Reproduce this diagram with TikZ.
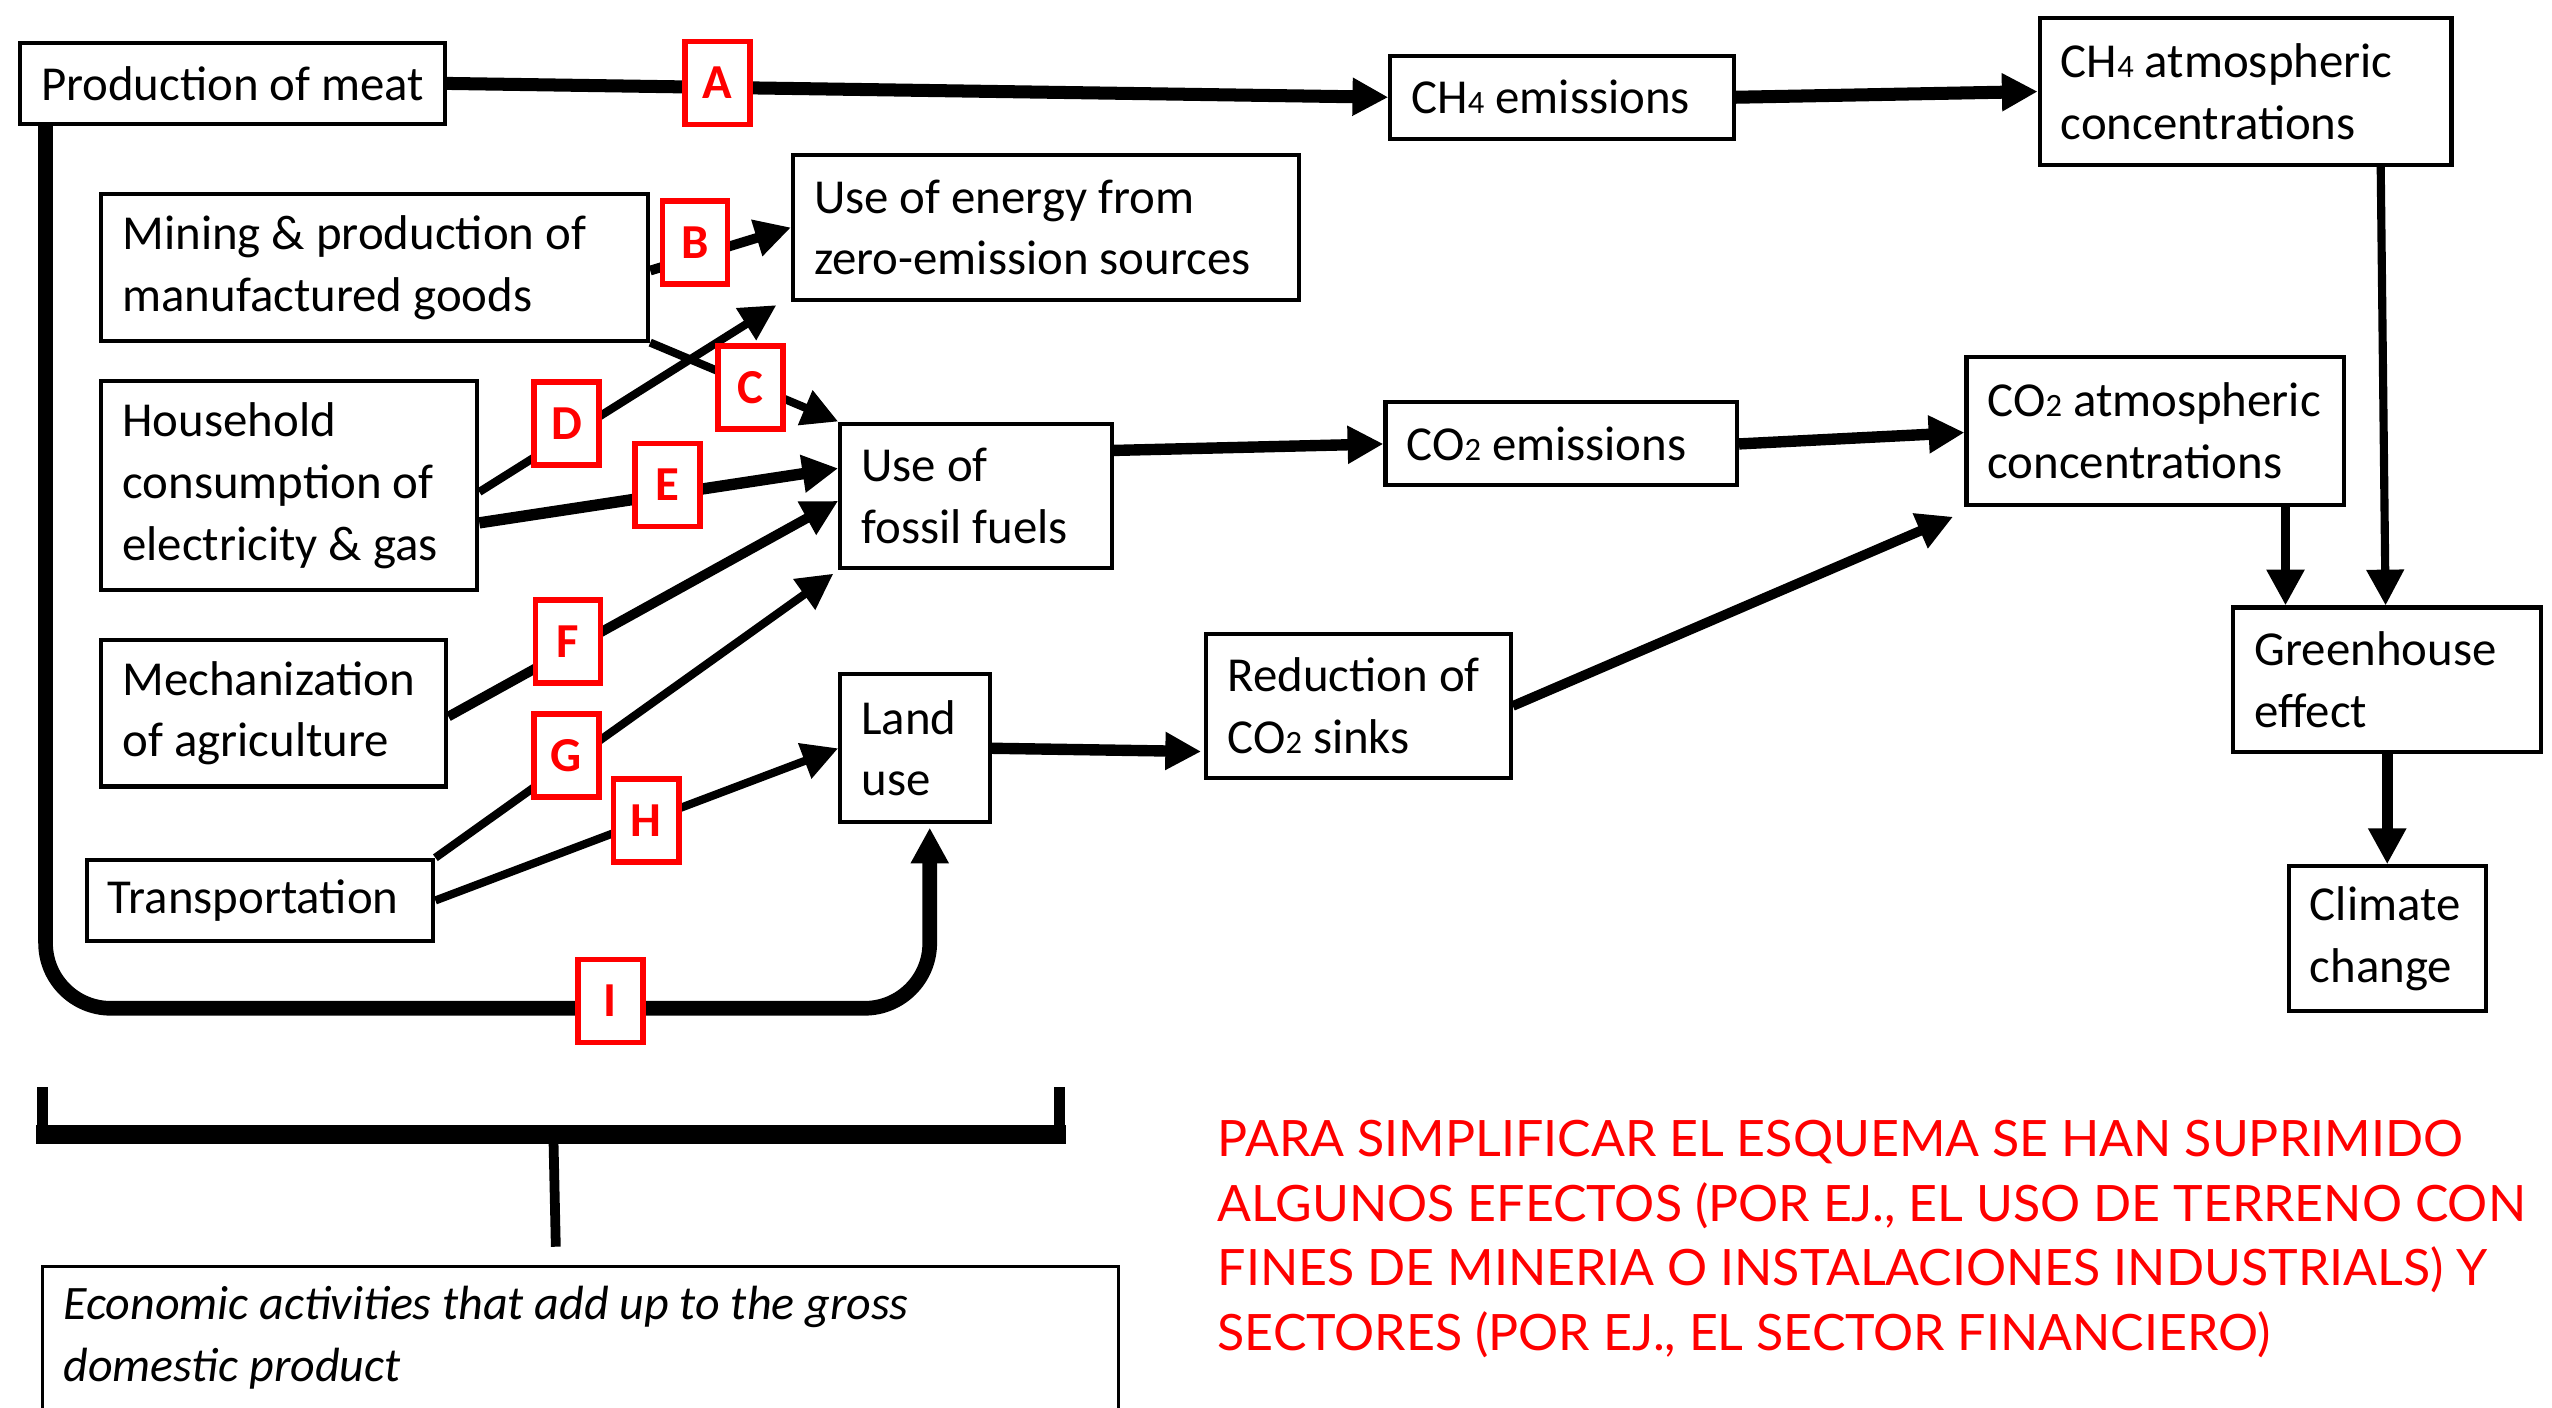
\documentclass[tikz,border=0pt]{standalone}
\usepackage{fontspec}
\setmainfont{Carlito}
\newfontfamily\notefont{Lato}
\usetikzlibrary{arrows.meta,calc}
\newcommand\smalldig[1]{{\fontsize{20}{20}\selectfont #1}}
\newcommand\LN[1]{\mbox{\spaceskip=0pt\xspaceskip=0pt\relax #1}}
\begin{document}
\begin{tikzpicture}[x=1pt,y=-1pt,
  box/.style={draw, line width=2.5pt, align=left, inner xsep=13pt, inner ysep=0pt, anchor=north west, font=\fontsize{30}{38}\selectfont},
  lbl/.style={draw=red, line width=3.5pt, fill=white, text=red, font=\fontsize{30}{36}\selectfont\bfseries, minimum width=40pt, minimum height=51pt, inner sep=0pt},
  arr/.style={line width=6pt, -{Triangle[length=22pt,width=22pt]}},
]
\fill[white] (0,0) rectangle (1568,865);
\useasboundingbox (0,0) rectangle (1568,865);

% boxes
\node[box, text width=235pt, minimum height=50pt] (meat) at (11,25) {\LN{Production of meat}};
\node[box, text width=310pt, minimum height=90pt] (mine) at (61,118) {\LN{Mining \& production of}\\\LN{manufactured goods}};
\node[box, text width=285pt, minimum height=89pt] (zero) at (486,94) {\LN{Use of energy from}\\\LN{zero-emission sources}};
\node[box, text width=205pt, minimum height=128pt] (house) at (61,233) {\LN{Household}\\\LN{consumption of}\\\LN{electricity \& gas}};
\node[box, text width=141pt, minimum height=89pt] (fossil) at (515,259) {\LN{Use of}\\\LN{fossil fuels}};
\node[box, text width=186pt, minimum height=90pt] (mech) at (61,392) {\LN{Mechanization}\\\LN{of agriculture}};
\node[box, text width=66pt, minimum height=91pt] (land) at (515,413) {\LN{Land}\\\LN{use}};
\node[box, text width=187pt, minimum height=50pt] (trans) at (52,527) {\LN{Transportation}};
\node[box, text width=185pt, minimum height=51pt] (ch4e) at (853,33) {\LN{CH\smalldig{4} emissions}};
\node[box, text width=227pt, minimum height=90pt] (ch4a) at (1252,10) {\LN{CH\smalldig{4} atmospheric}\\\LN{concentrations}};
\node[box, text width=190pt, minimum height=51pt] (co2e) at (850,246) {\LN{CO\smalldig{2} emissions}};
\node[box, text width=206pt, minimum height=91pt] (co2a) at (1207,218) {\LN{CO\smalldig{2} atmospheric}\\\LN{concentrations}};
\node[box, text width=161pt, minimum height=89pt] (sinks) at (740,388) {\LN{Reduction of}\\\LN{CO\smalldig{2} sinks}};
\node[box, text width=163pt, minimum height=89pt] (ghe) at (1371,372) {\LN{Greenhouse}\\\LN{effect}};
\node[box, text width=95pt, minimum height=89pt] (climate) at (1405,531) {\LN{Climate}\\\LN{change}};
\node[box, line width=2pt, text width=635pt, minimum height=88pt, font=\fontsize{29.5}{38}\selectfont\itshape] (gdp) at (25,777) {\LN{Economic activities that add up to the gross}\\\LN{domestic product}};

% connectors
\draw[arr, line width=8pt] (meat.east) -- (ch4e.west);
\draw[arr, line width=8pt] (ch4e.east) -- (ch4a.west);
\draw[arr] ([yshift=-2pt]mine.east) -- (zero.west);
\draw[arr, line width=5pt] (mine.south east) -- (fossil.north west);
\draw[arr, line width=5pt] ([yshift=-4pt]house.east) -- ([xshift=-9pt,yshift=-2pt]zero.south west);
\draw[arr, line width=7pt] ([yshift=-23pt]house.east) -- ([yshift=17pt]fossil.west);
\draw[arr] ([yshift=-2pt]mech.east) -- ([yshift=-3pt]fossil.west);
\draw[arr, line width=5pt] (trans.north east) -- ([xshift=-3pt,yshift=-2pt]fossil.south west);
\draw[arr, line width=5pt] (trans.east) -- (land.west);
\draw[arr, line width=9pt, rounded corners=40pt] ([xshift=17pt]meat.south west) -- ++(0,542) -| ([xshift=9pt,yshift=-2pt]land.south);
\draw[arr, line width=7pt] ([yshift=28pt]fossil.east) -- (co2e.west);
\draw[arr, line width=7pt] (co2e.east) -- ([yshift=-1pt]co2a.west);
\draw[arr, line width=7pt] (land.east) -- ([xshift=-2pt,yshift=-28pt]sinks.west);
\draw[arr] (sinks.east) -- ([xshift=-7pt,yshift=-6pt]co2a.south west);
\coordinate (gh1) at ([xshift=80pt]co2a.south);
\draw[arr] (gh1) -- (gh1 |- ghe.north);
\draw[arr, line width=5pt] ([xshift=83pt]ch4a.south) -- ([xshift=-1pt]ghe.north);
\draw[arr, line width=7pt] (ghe.south) -- (climate.north);

% labels
\node[lbl] (la) at (441,51) {A};
\node[lbl] (lb) at (427,149) {B};
\node[lbl] (lc) at (461,238) {C};
\node[lbl] (ld) at (348,260) {D};
\node[lbl] (le) at (410,298) {E};
\node[lbl] (lf) at (349,394) {F};
\node[lbl] (lg) at (348,464) {G};
\node[lbl] (lh) at (397,504) {H};
\node[lbl] (li) at (375,615) {I};

% bracket
\draw[line width=7pt] (26,668) -- (26,697);
\fill (22,691) rectangle (655,703);
\draw[line width=7pt] (651,668) -- (651,697);
\coordinate (stemtop) at (340,697);
\draw[line width=6pt] (stemtop) -- ([xshift=-15pt,yshift=11pt]gdp.north);

% note
\node[anchor=north west, align=left, text=red, inner sep=0pt, font=\notefont\fontsize{30.8}{39.7}\selectfont] (note) at (748,688) {PARA SIMPLIFICAR EL ESQUEMA SE HAN SUPRIMIDO\\ALGUNOS EFECTOS (POR EJ., EL USO DE TERRENO CON\\FINES DE MINERIA O INSTALACIONES INDUSTRIALS) Y\\SECTORES (POR EJ., EL SECTOR FINANCIERO)};
\end{tikzpicture}
\end{document}
